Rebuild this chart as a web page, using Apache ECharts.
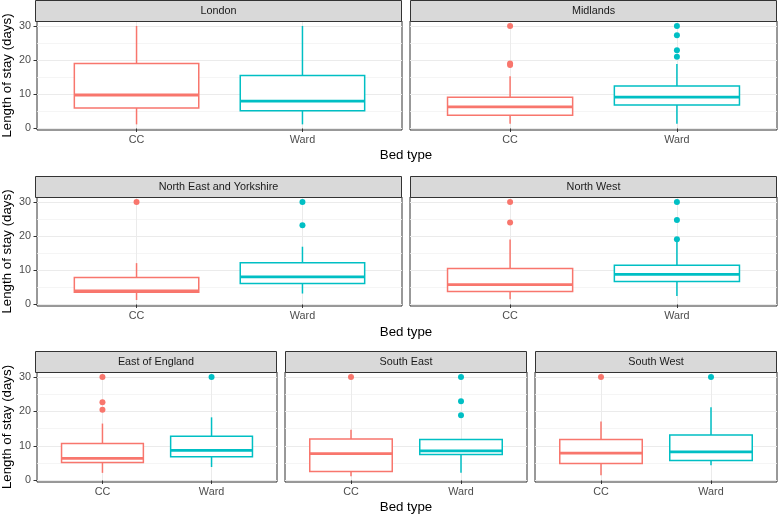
<!DOCTYPE html>
<html><head><meta charset="utf-8">
<script src="https://cdn.jsdelivr.net/npm/echarts@6/dist/echarts.min.js"></script>
<style>html,body{margin:0;padding:0;background:#fff}#c{width:778px;height:514px}</style>
</head><body><div id="c"></div>
<script>
// ---- data ----
const regions = ['London', 'Midlands', 'North East and Yorkshire', 'North West', 'East of England', 'South East', 'South West'];
const bedTypes = ['CC', 'Ward'];
// [lower whisker, Q1, median, Q3, upper whisker]
const ccStats = [
  [1.2, 6.0, 9.8, 19.0, 30],
  [1.4, 3.9, 6.3, 9.1, 15.3],
  [1.3, 3.6, 4.0, 7.9, 12.1],
  [1.5, 3.8, 5.8, 10.5, 19.0],
  [2.2, 5.2, 6.4, 10.7, 16.5],
  [1.2, 2.6, 7.8, 12.0, 14.7],
  [1.5, 4.9, 7.9, 11.9, 17.1]
];
const wardStats = [
  [1.2, 5.2, 8.0, 15.5, 30],
  [1.4, 6.9, 9.2, 12.4, 18.9],
  [3.2, 6.1, 8.1, 12.2, 16.9],
  [2.5, 6.7, 8.8, 11.5, 18.8],
  [3.9, 6.9, 8.7, 12.8, 18.3],
  [2.2, 7.5, 8.6, 11.9, 11.9],
  [4.4, 5.8, 8.3, 13.2, 21.2]
];
const ccOutliers = [[], [30, 19.0, 18.6], [30], [30, 24.0], [30, 22.7, 20.5], [30], [30]];
const wardOutliers = [[], [30, 27.3, 22.9, 21.0], [30, 23.2], [30, 24.7, 19.1], [30], [30, 23.0, 18.9], [30]];
const yMajorTicks = [0, 10, 20, 30];
const yMinorTicks = [5, 15, 25];
const yRange = [-0.45, 31.45];
const xTickValues = [1, 2];

// ---- styling / layout ----
const colors = ['#F8766D', '#00BFC4'];
const FONT = '"Liberation Sans", Arial, Helvetica, sans-serif';
const stripH = 21;
const panels = [
  {left: 35,  top: 21,  width: 367, height: 109, yLab: true},
  {left: 410, top: 21,  width: 367, height: 109, yLab: false},
  {left: 35,  top: 197, width: 367, height: 109, yLab: true},
  {left: 410, top: 197, width: 367, height: 109, yLab: false},
  {left: 35,  top: 372, width: 242, height: 110, yLab: true},
  {left: 285, top: 372, width: 242, height: 110, yLab: false},
  {left: 535, top: 372, width: 242, height: 110, yLab: false}
];
const xTitleY = [155, 332, 507];

function renderBox(params, api) {
  const x = api.value(0);
  const lo = api.value(1), q1 = api.value(2), med = api.value(3), q3 = api.value(4), hi = api.value(5);
  const color = api.visual('color');
  const half = 0.375;
  const tl = api.coord([x - half, q3]);
  const br = api.coord([x + half, q1]);
  const mL = api.coord([x - half, med]);
  const mR = api.coord([x + half, med]);
  const pHi = api.coord([x, hi]), pQ3 = api.coord([x, q3]);
  const pQ1 = api.coord([x, q1]), pLo = api.coord([x, lo]);
  const lw = 1.5;
  return {
    type: 'group',
    children: [
      {type: 'line', shape: {x1: pHi[0], y1: pHi[1], x2: pQ3[0], y2: pQ3[1]}, style: {stroke: color, lineWidth: lw}},
      {type: 'line', shape: {x1: pLo[0], y1: pLo[1], x2: pQ1[0], y2: pQ1[1]}, style: {stroke: color, lineWidth: lw}},
      {type: 'rect', shape: {x: tl[0], y: tl[1], width: br[0] - tl[0], height: br[1] - tl[1]}, style: {fill: '#fff', stroke: color, lineWidth: lw}},
      {type: 'line', shape: {x1: mL[0], y1: mL[1], x2: mR[0], y2: mR[1]}, style: {stroke: color, lineWidth: 2.8}}
    ]
  };
}

const grid = [], xAxis = [], yAxis = [], series = [], graphic = [];
panels.forEach((p, i) => {
  grid.push({left: p.left, top: p.top, width: p.width, height: p.height, show: true,
    borderColor: '#333333', borderWidth: 1, backgroundColor: '#fff'});
  xAxis.push({
    gridIndex: i, type: 'value', min: 0.4, max: 2.6,
    axisLine: {show: false},
    axisTick: {show: true, customValues: xTickValues, length: 3.5, lineStyle: {color: '#333333'}},
    axisLabel: {customValues: xTickValues, formatter: v => bedTypes[Math.round(v) - 1] || '',
      color: '#4D4D4D', fontSize: 10.8, fontFamily: FONT, margin: 5},
    splitLine: {show: true, lineStyle: {color: '#EBEBEB', width: 1}}
  });
  yAxis.push({
    gridIndex: i, type: 'value', min: yRange[0], max: yRange[1],
    axisLine: {show: false},
    axisTick: {show: p.yLab, customValues: yMajorTicks, length: 3.5, lineStyle: {color: '#333333'}},
    axisLabel: {show: p.yLab, customValues: yMajorTicks, color: '#4D4D4D', fontSize: 10.8, fontFamily: FONT, margin: 6},
    splitLine: {show: true, lineStyle: {color: '#EBEBEB', width: 1}},
    name: p.yLab ? 'Length of stay (days)' : '',
    nameLocation: 'middle', nameRotate: 90, nameGap: 23,
    nameTextStyle: {color: '#000', fontSize: 13.3, fontFamily: FONT}
  });
  yAxis.push({
    gridIndex: i, type: 'value', min: yRange[0], max: yRange[1], position: 'left',
    axisLine: {show: false},
    axisTick: {show: false, customValues: yMinorTicks},
    axisLabel: {show: false},
    splitLine: {show: true, lineStyle: {color: '#F3F3F3', width: 0.8}}
  });
  series.push({
    type: 'custom', xAxisIndex: i, yAxisIndex: 2 * i, renderItem: renderBox,
    encode: {x: 0, y: [1, 2, 3, 4, 5]}, silent: true, z: 3,
    data: [
      {value: [1].concat(ccStats[i]), itemStyle: {color: colors[0]}},
      {value: [2].concat(wardStats[i]), itemStyle: {color: colors[1]}}
    ]
  });
  [ccOutliers[i], wardOutliers[i]].forEach((arr, k) => {
    series.push({
      type: 'scatter', xAxisIndex: i, yAxisIndex: 2 * i, symbol: 'circle', symbolSize: 6, z: 4,
      itemStyle: {color: colors[k], opacity: 1}, silent: true,
      data: arr.map(v => [k + 1, v])
    });
  });
  graphic.push({type: 'rect', silent: true, z: 10,
    shape: {x: p.left + 0.5, y: p.top - stripH + 0.5, width: p.width - 1, height: stripH},
    style: {fill: '#D9D9D9', stroke: '#333333', lineWidth: 1}});
  graphic.push({type: 'text', silent: true, z: 11,
    x: p.left + p.width / 2, y: p.top - stripH / 2 + 0.5,
    style: {text: regions[i], align: 'center', verticalAlign: 'middle', fill: '#1A1A1A', fontSize: 10.8, fontFamily: FONT}});
});
xTitleY.forEach(y => {
  graphic.push({type: 'text', silent: true, x: 406, y: y,
    style: {text: 'Bed type', align: 'center', verticalAlign: 'middle', fill: '#000', fontSize: 13.3, fontFamily: FONT}});
});

const chart = echarts.init(document.getElementById('c'), null, {renderer: 'canvas'});
chart.setOption({animation: false, backgroundColor: '#fff', grid, xAxis, yAxis, series, graphic});
</script></body></html>
